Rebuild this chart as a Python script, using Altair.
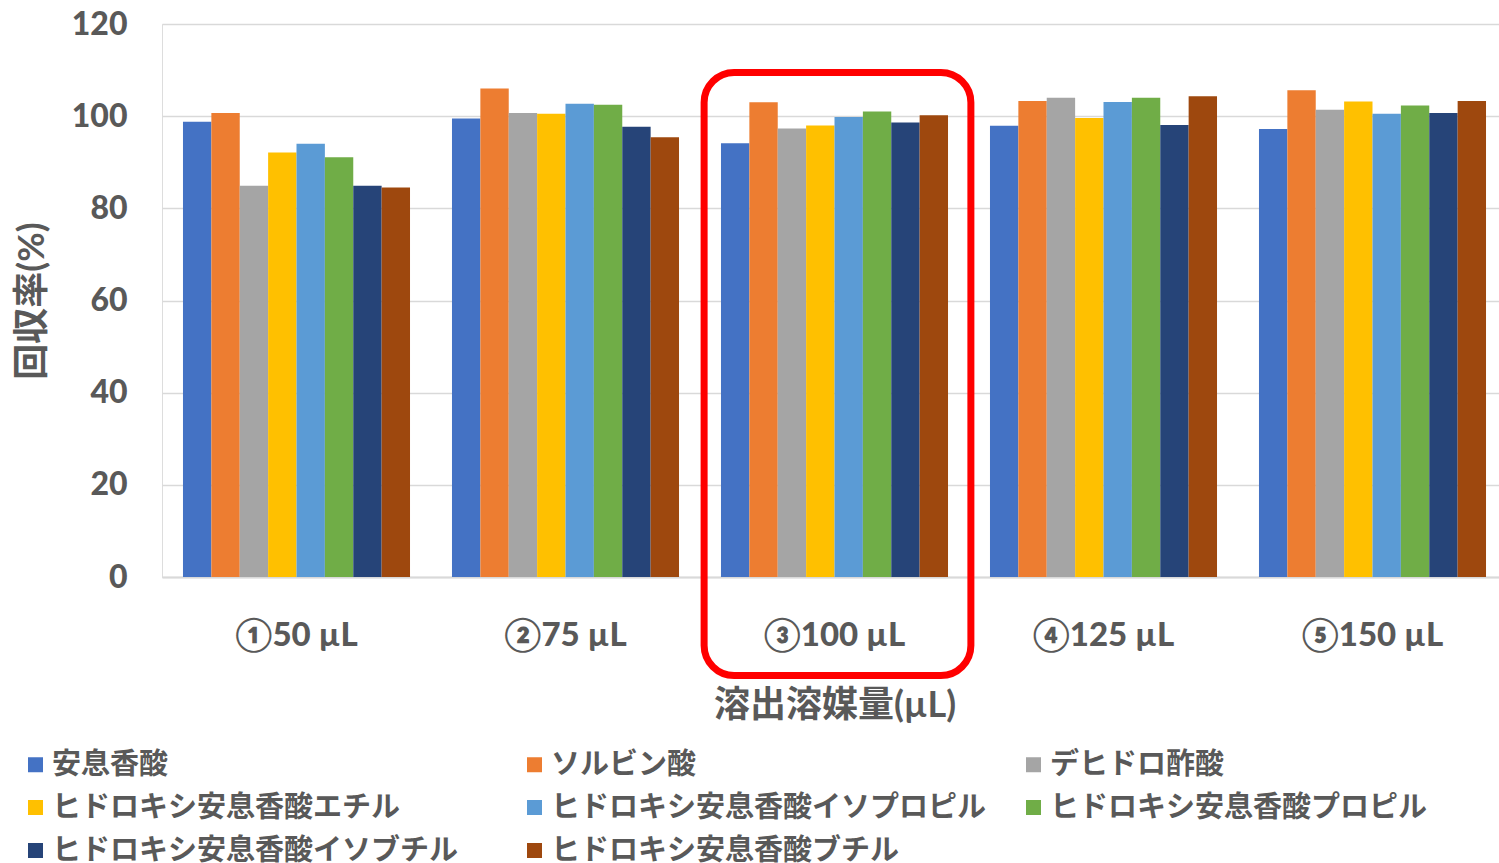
import altair as alt
import pandas as pd

# Elution solvent volumes (x categories)
groups = ["①50 µL", "②75 µL", "③100 µL", "④125 µL", "⑤150 µL"]

# Analytes (series), in legend order
series = [
    "安息香酸",
    "ソルビン酸",
    "デヒドロ酢酸",
    "ヒドロキシ安息香酸エチル",
    "ヒドロキシ安息香酸イソプロピル",
    "ヒドロキシ安息香酸プロピル",
    "ヒドロキシ安息香酸イソブチル",
    "ヒドロキシ安息香酸ブチル",
]

colors = ["#4472C4", "#ED7D31", "#A5A5A5", "#FFC000",
          "#5B9BD5", "#70AD47", "#264478", "#9E480E"]

# Recovery (%) per analyte, one value per elution volume
recovery = {
    "安息香酸":                     [98.8, 99.5, 94.1, 97.9, 97.2],
    "ソルビン酸":                   [100.7, 106.0, 103.0, 103.3, 105.6],
    "デヒドロ酢酸":                 [84.9, 100.7, 97.3, 104.0, 101.4],
    "ヒドロキシ安息香酸エチル":       [92.1, 100.5, 98.0, 99.6, 103.2],
    "ヒドロキシ安息香酸イソプロピル": [94.0, 102.7, 99.8, 103.1, 100.5],
    "ヒドロキシ安息香酸プロピル":     [91.1, 102.5, 101.0, 104.0, 102.3],
    "ヒドロキシ安息香酸イソブチル":   [84.9, 97.7, 98.6, 98.1, 100.7],
    "ヒドロキシ安息香酸ブチル":       [84.5, 95.4, 100.2, 104.3, 103.3],
}

# Highlighted condition and the vertical extent of its frame (in % units)
highlight_group = ["③100 µL"]
highlight_top = [109.5]
highlight_bottom = [-21.4]

rows = []
for s in series:
    for g, v in zip(groups, recovery[s]):
        rows.append({"group": g, "series": s, "value": v})
df = pd.DataFrame(rows)

hl = pd.DataFrame({"group": highlight_group,
                   "top": highlight_top,
                   "bottom": highlight_bottom})

FONT = "Lato, 'Noto Sans CJK JP', sans-serif"
TXT = "#595959"

x_enc = alt.X(
    "group:N", sort=groups,
    scale=alt.Scale(range=[0, 1345], paddingInner=0.156, paddingOuter=0.078),
    axis=alt.Axis(
        title="溶出溶媒量(µL)", labelAngle=0, labelFontSize=33,
        labelFontWeight=900, labelColor=TXT, labelFont=FONT,
        labelPadding=42, titleFontSize=36, titleFontWeight="bold",
        titleColor=TXT, titleFont=FONT, titlePadding=36,
        domainColor="#D9D9D9", domainWidth=2, ticks=False,
    ),
)

y_scale = alt.Scale(domain=[0, 120], nice=False)

bars = alt.Chart(df).mark_bar().encode(
    x=x_enc,
    xOffset=alt.XOffset("series:N", sort=series,
                        scale=alt.Scale(paddingInner=0, paddingOuter=0)),
    y=alt.Y(
        "value:Q", scale=y_scale,
        axis=alt.Axis(
            title="回収率(%)", values=[0, 20, 40, 60, 80, 100, 120],
            labelFontSize=32, labelFontWeight=900, labelColor=TXT,
            labelFont=FONT, labelPadding=35, titleFontSize=36,
            titleFontWeight="bold", titleColor=TXT, titleFont=FONT,
            titlePadding=20, domain=False, ticks=False,
            gridColor="#D9D9D9", gridWidth=1.5,
        ),
    ),
    color=alt.Color(
        "series:N", sort=series,
        scale=alt.Scale(domain=series, range=colors),
        legend=alt.Legend(
            title=None, orient="none", legendX=-141, legendY=726,
            direction="horizontal", columns=3, gridAlign="all",
            columnPadding=32,
            symbolType="square", symbolSize=225, symbolStrokeWidth=0,
            labelFontSize=29, labelFontWeight="bold", labelColor=TXT,
            labelFont=FONT, labelOffset=2, rowPadding=13, labelLimit=600,
        ),
    ),
)

frame = alt.Chart(hl).mark_bar(
    filled=False, stroke="#FF0000", strokeWidth=7, cornerRadius=30,
    width=alt.RelativeBandSize(1.175), xOffset=3,
).encode(
    x=alt.X("group:N", sort=groups),
    y=alt.Y("top:Q", scale=y_scale),
    y2="bottom:Q",
)

chart = alt.layer(bars, frame).properties(
    width=1337, height=553,
    padding={"left": 162, "top": 24, "right": 0, "bottom": 286},
    autosize=alt.AutoSizeParams(type="none"),
).configure_view(stroke=None).configure(background="white")

chart.save("out.html", embed_options={"renderer": "svg", "actions": False})
